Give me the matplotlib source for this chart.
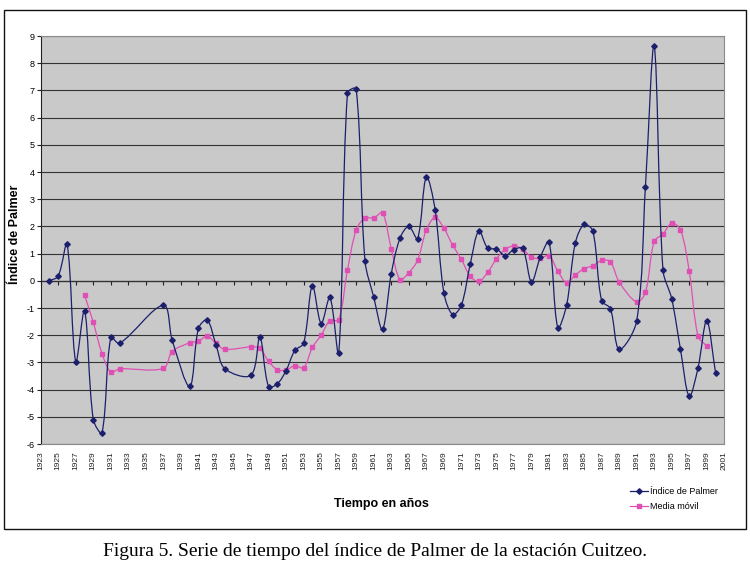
import numpy as np
import matplotlib
matplotlib.use("Agg")
import matplotlib.pyplot as plt
from matplotlib.path import Path
from matplotlib.patches import PathPatch, Rectangle
from matplotlib.lines import Line2D

plt.rcParams['font.family'] = ['Liberation Sans', 'DejaVu Sans']

# Palmer index (annual)
years_palmer = [1924, 1925, 1926, 1927, 1928, 1929, 1930, 1931, 1932, 1937,
                1938, 1940, 1941, 1942, 1943, 1944, 1947, 1948, 1949, 1950,
                1951, 1952, 1953, 1954, 1955, 1956, 1957, 1958, 1959, 1960,
                1961, 1962, 1963, 1964, 1965, 1966, 1967, 1968, 1969, 1970,
                1971, 1972, 1973, 1974, 1975, 1976, 1977, 1978, 1979, 1980,
                1981, 1982, 1983, 1984, 1985, 1986, 1987, 1988, 1989, 1991,
                1992, 1993, 1994, 1995, 1996, 1997, 1998, 1999, 2000]
palmer = [0.0, 0.17, 1.35, -2.97, -1.1, -5.1, -5.58, -2.08, -2.3, -0.9,
          -2.18, -3.88, -1.75, -1.44, -2.35, -3.23, -3.47, -2.07, -3.89, -3.79,
          -3.3, -2.56, -2.3, -0.18, -1.57, -0.61, -2.67, 6.9, 7.05, 0.74,
          -0.6, -1.79, 0.26, 1.57, 2.0, 1.55, 3.82, 2.62, -0.44, -1.24,
          -0.9, 0.6, 1.84, 1.2, 1.17, 0.93, 1.15, 1.19, -0.04, 0.86,
          1.43, -1.72, -0.9, 1.39, 2.07, 1.83, -0.73, -1.02, -2.52, -1.48,
          3.45, 8.62, 0.4, -0.66, -2.52, -4.25, -3.2, -1.47, -3.38]

# moving average
years_media = [1928, 1929, 1930, 1931, 1932, 1937, 1938, 1940, 1941, 1942,
               1943, 1944, 1947, 1948, 1949, 1950, 1951, 1952, 1953, 1954,
               1955, 1956, 1957, 1958, 1959, 1960, 1961, 1962, 1963, 1964,
               1965, 1966, 1967, 1968, 1969, 1970, 1971, 1972, 1973, 1974,
               1975, 1976, 1977, 1978, 1979, 1980, 1981, 1982, 1983, 1984,
               1985, 1986, 1987, 1988, 1989, 1991, 1992, 1993, 1994, 1995,
               1996, 1997, 1998, 1999]
media = [-0.52, -1.53, -2.68, -3.36, -3.24, -3.22, -2.6, -2.28, -2.22, -2.03,
         -2.3, -2.52, -2.43, -2.48, -2.96, -3.27, -3.28, -3.12, -3.2, -2.45,
         -2.0, -1.46, -1.44, 0.39, 1.87, 2.31, 2.31, 2.5, 1.18, 0.04,
         0.3, 0.75, 1.87, 2.33, 1.94, 1.31, 0.79, 0.17, -0.02, 0.31,
         0.8, 1.16, 1.28, 1.16, 0.87, 0.82, 0.93, 0.36, -0.07, 0.21,
         0.45, 0.55, 0.75, 0.7, -0.04, -0.78, -0.43, 1.45, 1.72, 2.12,
         1.88, 0.35, -2.03, -2.4]

x_ticks = list(range(1923, 2002, 2))
y_ticks = list(range(-6, 10))

BLUE = '#1c1f6b'
PINK = '#e050b4'


def smooth_path(ax, x, y):
    # excel-like smoothed line: bezier whose tangents are weighted by
    # the on-screen length of the neighbouring segments
    pts = np.column_stack([x, y]).astype(float)
    scr = ax.transData.transform(pts)
    n = len(pts)
    verts = [pts[0]]
    codes = [Path.MOVETO]
    for i in range(n - 1):
        i0 = max(i - 1, 0)
        i3 = min(i + 2, n - 1)
        d01 = np.hypot(*(scr[i] - scr[i0]))
        d12 = np.hypot(*(scr[i + 1] - scr[i]))
        d23 = np.hypot(*(scr[i3] - scr[i + 1]))
        f1 = d12 / (d01 + d12) / 3 if d01 + d12 > 0 else 0
        f2 = d12 / (d12 + d23) / 3 if d12 + d23 > 0 else 0
        c1 = pts[i] + (pts[i + 1] - pts[i0]) * f1
        c2 = pts[i + 1] - (pts[i3] - pts[i]) * f2
        verts += [c1, c2, pts[i + 1]]
        codes += [Path.CURVE4] * 3
    return Path(verts, codes)


fig = plt.figure(figsize=(7.5, 5.69), dpi=100)
ax = fig.add_axes([40.7 / 750, 1 - 444 / 569, 683.6 / 750, 408 / 569])
ax.set_facecolor('#c9c9c9')
ax.set_xlim(1923, 2001)
ax.set_ylim(-6, 9)

ax.add_patch(PathPatch(smooth_path(ax, years_media, media), fill=False,
                       edgecolor=PINK, lw=0.9, zorder=3))
ax.plot(years_media, media, ls='none', marker='s', ms=3.2, color=PINK, zorder=4)
ax.add_patch(PathPatch(smooth_path(ax, years_palmer, palmer), fill=False,
                       edgecolor=BLUE, lw=0.9, zorder=5))
ax.plot(years_palmer, palmer, ls='none', marker='D', ms=2.8, color=BLUE, zorder=6)

ax.set_yticks(y_ticks)
ax.set_yticklabels([str(v) for v in y_ticks], fontsize=6.5)
ax.set_xticks(x_ticks)
ax.set_xticklabels([str(v) for v in x_ticks], rotation=90, fontsize=6,
                   color='#222222')
ax.tick_params(axis='x', length=0, pad=5)
ax.tick_params(axis='y', length=3, width=0.8, pad=1.5, color='#222222')
ax.yaxis.grid(True, color='#333333', lw=0.8)
ax.set_axisbelow(True)
for side in ['top', 'right', 'bottom']:
    ax.spines[side].set_color('#8a8a8a')
    ax.spines[side].set_linewidth(0.8)
ax.spines['left'].set_color('#222222')
ax.spines['left'].set_linewidth(0.8)

# category axis crossing at zero
sec = ax.secondary_xaxis(6 / 15)
sec.set_xticks(x_ticks)
sec.xaxis.set_ticks_position('bottom')
sec.tick_params(labelbottom=False, labeltop=False, length=3, width=0.8,
                color='#222222')
sec.spines['bottom'].set_color('#222222')
sec.spines['bottom'].set_linewidth(0.9)
sec.spines['top'].set_visible(False)

fig.text(15 / 750, 1 - 234 / 569, 'Índice de Palmer', rotation=90,
         fontsize=9, fontweight='bold', ha='center', va='center')
fig.text(381 / 750, 1 - 504 / 569, 'Tiempo en años', fontsize=9,
         fontweight='bold', ha='center', va='center')

handles = [Line2D([], [], color=BLUE, lw=0.9, marker='D', ms=2.8),
           Line2D([], [], color=PINK, lw=0.9, marker='s', ms=3.2)]
fig.legend(handles, ['Índice de Palmer', 'Media móvil'],
           loc='center left', bbox_to_anchor=(626 / 750, 1 - 499 / 569),
           frameon=False, fontsize=6.5, handlelength=2.0, handletextpad=0.3,
           labelspacing=0.6, borderaxespad=0)

fig.patches.append(Rectangle((4 / 750, 1 - 529 / 569), 742 / 750, 519 / 569,
                             transform=fig.transFigure, fill=False,
                             edgecolor='#111111', lw=1.0))

fig.text(375 / 750, 1 - 551 / 569,
         'Figura 5. Serie de tiempo del índice de Palmer de la estación Cuitzeo.',
         family=['Liberation Serif', 'DejaVu Serif'], fontsize=14,
         ha='center', va='center')

fig.savefig('out.png', dpi=100)
